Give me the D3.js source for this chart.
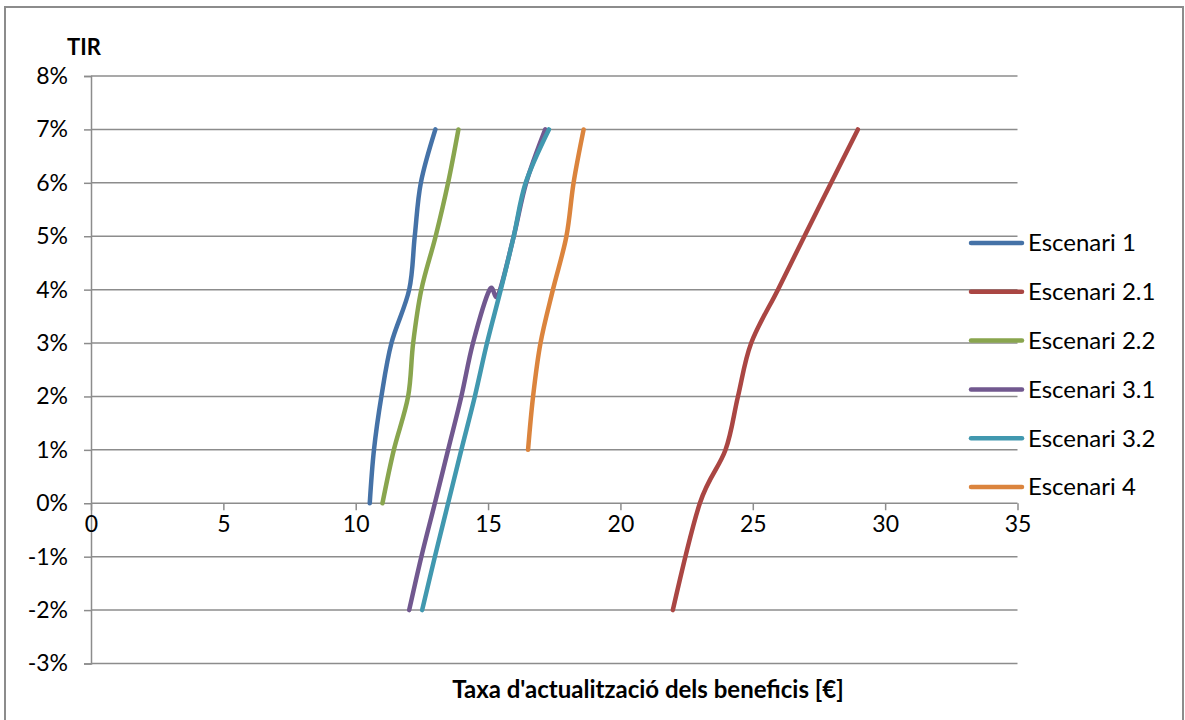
<!DOCTYPE html>
<html>
<head>
<meta charset="utf-8">
<script src="https://cdn.jsdelivr.net/npm/d3@7"></script>
<style>
  html, body { margin: 0; padding: 0; background: #fff; }
  svg { display: block; font-family: Lato, "Open Sans", sans-serif; }
</style>
</head>
<body>
<svg id="chart" width="1185" height="720"></svg>
<script>
// ---- data ----
const seriesNames = ["Escenari 1", "Escenari 2.1", "Escenari 2.2", "Escenari 3.1", "Escenari 3.2", "Escenari 4"];
const seriesColors = ["#4572A7", "#AA4643", "#89A54E", "#71588F", "#4198AF", "#DB843D"];

// x = taxa d'actualització (€), y = TIR (fraction)
const esc1X  = [10.53, 10.69, 10.97, 11.35, 12.02, 12.23, 12.46, 13.01];
const esc1Y  = [0, 0.01, 0.02, 0.03, 0.04, 0.05, 0.06, 0.07];

const esc21X = [21.98, 23.0, 23.97, 24.44, 24.94, 25.95, 26.95, 27.96, 28.97];
const esc21Y = [-0.02, 0, 0.01, 0.02, 0.03, 0.04, 0.05, 0.06, 0.07];

const esc22X = [11.01, 11.44, 11.98, 12.17, 12.48, 13.02, 13.49, 13.88];
const esc22Y = [0, 0.01, 0.02, 0.03, 0.04, 0.05, 0.06, 0.07];

const esc31X = [12.02, 12.48, 12.99, 13.49, 13.99, 14.43, 15.06, 15.38, 15.97, 16.44, 17.16];
const esc31Y = [-0.02, -0.01, 0, 0.01, 0.02, 0.03, 0.04, 0.039, 0.05, 0.06, 0.07];

const esc32X = [12.51, 12.99, 13.49, 13.99, 14.50, 14.96, 15.48, 15.97, 16.42, 17.30];
const esc32Y = [-0.02, -0.01, 0, 0.01, 0.02, 0.03, 0.04, 0.05, 0.06, 0.07];

const esc4X  = [16.51, 16.70, 16.98, 17.45, 17.96, 18.23, 18.61];
const esc4Y  = [0.01, 0.02, 0.03, 0.04, 0.05, 0.06, 0.07];

const xTicks = [0, 5, 10, 15, 20, 25, 30, 35];
const yTicks = [-0.03, -0.02, -0.01, 0, 0.01, 0.02, 0.03, 0.04, 0.05, 0.06, 0.07, 0.08];

const yTitle = "TIR";
const xTitle = "Taxa d'actualització dels beneficis [€]";

const allX = [esc1X, esc21X, esc22X, esc31X, esc32X, esc4X];
const allY = [esc1Y, esc21Y, esc22Y, esc31Y, esc32Y, esc4Y];

// ---- drawing ----
const svg = d3.select("#chart");
const gridColor = "#8c8c8c";

// outer frame
svg.append("path")
  .attr("d", "M5,760 L5,7 L1183,7 L1183,760")
  .attr("fill", "none").attr("stroke", gridColor).attr("stroke-width", 2);

const x = d3.scaleLinear().domain([0, 35]).range([91, 1017.5]);
const y = d3.scaleLinear().domain([-0.03, 0.08]).range([663.5, 76]);

// horizontal gridlines
svg.append("g").selectAll("line").data(yTicks).join("line")
  .attr("x1", x(0)).attr("x2", x(35))
  .attr("y1", d => y(d)).attr("y2", d => y(d))
  .attr("stroke", gridColor).attr("stroke-width", 1.5);

// y axis
const yAxis = d3.axisLeft(y).tickValues(yTicks).tickSize(7).tickPadding(16)
  .tickFormat(d => Math.round(d * 100) + "%");
const gy = svg.append("g").attr("transform", `translate(${x(0)},0)`).call(yAxis);
gy.select(".domain").attr("stroke", gridColor).attr("stroke-width", 1.5);
gy.selectAll(".tick line").attr("stroke", gridColor).attr("stroke-width", 1.5);
gy.selectAll(".tick text").attr("font-size", 23).attr("fill", "#000")
  .attr("font-family", "Lato, sans-serif");

// x axis at y=0
const xAxis = d3.axisBottom(x).tickValues(xTicks).tickSize(7).tickPadding(5);
const gx = svg.append("g").attr("transform", `translate(0,${y(0)})`).call(xAxis);
gx.select(".domain").remove();
gx.selectAll(".tick line").attr("stroke", gridColor).attr("stroke-width", 1.5);
gx.selectAll(".tick text").attr("font-size", 23).attr("fill", "#000")
  .attr("font-family", "Lato, sans-serif");

// series
const line = d3.line()
  .x(d => x(d[0])).y(d => y(d[1]))
  .curve(d3.curveCatmullRom.alpha(0));

seriesNames.forEach((name, i) => {
  const pts = allX[i].map((v, j) => [v, allY[i][j]]);
  svg.append("path")
    .datum(pts)
    .attr("d", line)
    .attr("fill", "none")
    .attr("stroke", seriesColors[i])
    .attr("stroke-width", 4.5)
    .attr("stroke-linecap", "round")
    .attr("stroke-linejoin", "round");
});

// legend
const lg = svg.append("g");
seriesNames.forEach((name, i) => {
  const ly = 243 + i * 48.8;
  lg.append("line").attr("x1", 971).attr("x2", 1022).attr("y1", ly).attr("y2", ly)
    .attr("stroke", seriesColors[i]).attr("stroke-width", 4.5).attr("stroke-linecap", "round");
  lg.append("text").attr("x", 1028).attr("y", ly).attr("dy", "0.35em")
    .attr("font-size", 24).attr("fill", "#000").text(name);
});

// titles
svg.append("text").attr("x", 84).attr("y", 47).attr("dy", "0.35em")
  .attr("text-anchor", "middle").attr("font-weight", "bold").attr("font-size", 22)
  .text(yTitle);
svg.append("text").attr("x", 648).attr("y", 690).attr("dy", "0.35em")
  .attr("text-anchor", "middle").attr("font-weight", "bold").attr("font-size", 24)
  .text(xTitle);
</script>
</body>
</html>
